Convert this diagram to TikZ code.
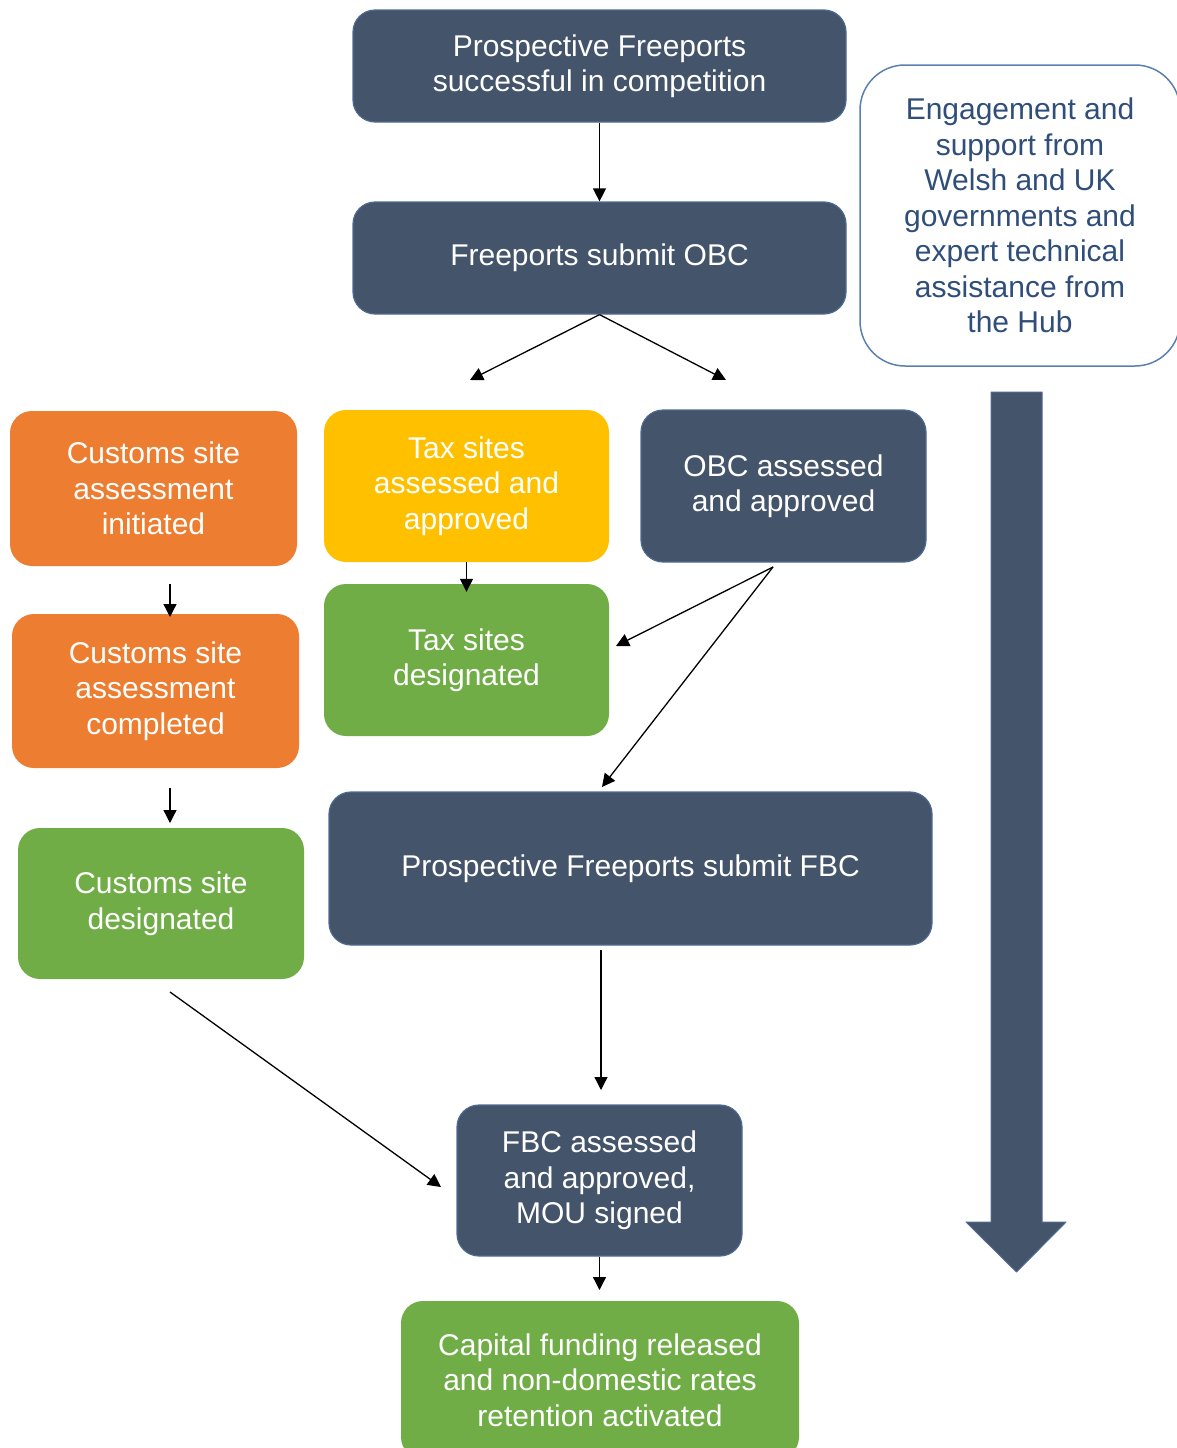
\documentclass[tikz,border=0pt]{standalone}
\usepackage{fontspec}
\setmainfont{Liberation Sans}
\usetikzlibrary{arrows.meta}
\definecolor{slate}{HTML}{44546A}
\definecolor{slateedge}{HTML}{4F6A93}
\definecolor{leaf}{HTML}{70AD47}
\definecolor{amber}{HTML}{FFC000}
\definecolor{tangerine}{HTML}{ED7D31}
\definecolor{hubtext}{HTML}{2F4E7A}
\definecolor{hubedge}{HTML}{5B7FAE}
\tikzset{
	stage/.style={rounded corners=22pt, align=center, text=white, inner sep=0pt, font=\fontsize{30}{35.5}\selectfont},
	slatestage/.style={stage, fill=slate, draw=slateedge, line width=1.2pt},
	leafstage/.style={stage, fill=leaf},
	amberstage/.style={stage, fill=amber},
	tangerinestage/.style={stage, fill=tangerine},
	flow/.style={-{Triangle[length=13pt,width=13pt]}, line width=1.3pt},
}
\begin{document}
\begin{tikzpicture}[x=1pt,y=-1pt,line join=round]
		\useasboundingbox (0,0) rectangle (1176,1448);
		\node[slatestage, minimum width=493pt, minimum height=112pt] (success) at (599.5,66) {Prospective Freeports\\successful in competition};
		\node[slatestage, minimum width=493pt, minimum height=112pt] (obc) at (599.5,258) {Freeports submit OBC};
		\node[stage, fill=white, draw=hubedge, text=hubtext, line width=1.5pt, rounded corners=45pt, minimum width=320pt, minimum height=301pt] (hub) at (1020,215.5) {Engagement and\\support from\\Welsh and UK\\governments and\\expert technical\\assistance from\\the Hub};
		\node[tangerinestage, minimum width=287pt, minimum height=155pt] (cinit) at (153.5,488.5) {Customs site\\assessment\\initiated};
		\node[amberstage, minimum width=285pt, minimum height=152pt] (taxok) at (466.5,486) {Tax sites\\assessed and\\approved};
		\node[slatestage, minimum width=285pt, minimum height=152pt] (obcok) at (783.5,486) {OBC assessed\\and approved};
		\node[tangerinestage, minimum width=287pt, minimum height=154pt] (cdone) at (155.5,691) {Customs site\\assessment\\completed};
		\node[leafstage, minimum width=285pt, minimum height=152pt] (taxdes) at (466.5,660) {Tax sites\\designated};
		\node[leafstage, minimum width=286pt, minimum height=151pt] (cdes) at (161,903.5) {Customs site\\designated};
		\node[slatestage, minimum width=603pt, minimum height=153pt] (fbc) at (630.5,868.5) {Prospective Freeports submit FBC};
		\node[slatestage, minimum width=285pt, minimum height=151pt] (fbcok) at (599.5,1180.5) {FBC assessed\\and approved,\\MOU signed};
		\node[leafstage, minimum width=398pt, minimum height=158pt] (funds) at (600,1380) {Capital funding released\\and non-domestic rates\\retention activated};
		\draw[fill=slate, draw=slateedge, line width=1pt] (991,392) -- (1042,392) -- (1042,1222) -- (1066,1222) -- (1016.5,1272) -- (966,1222) -- (991,1222) -- cycle;
		\coordinate (splitL) at (470,380);
		\coordinate (splitR) at (726,380);
		\coordinate (cinitout) at (170,584);
		\coordinate (cdonein) at (170,617);
		\coordinate (cdoneout) at (170,788);
		\coordinate (cdesin) at (170,823);
		\coordinate (obcfork) at (773,567);
		\coordinate (taxdesin) at (616,646);
		\coordinate (fbcin) at (602,787);
		\coordinate (cdesout) at (170,992);
		\coordinate (fbcokin) at (441,1187);
		\coordinate (fbcout) at (601,950);
		\coordinate (fbcokup) at (601,1090);
		\coordinate (fundsin) at (599.5,1290);
		\draw[flow] (success) -- (obc);
		\draw[flow] (obc.south) -- (splitL);
		\draw[flow] (obc.south) -- (splitR);
		\draw[flow] (cinitout) -- (cdonein);
		\draw[flow] (cdoneout) -- (cdesin);
		\draw[flow] (taxok.south) -- ([yshift=-8pt]taxdes.north);
		\draw[flow] (obcfork) -- (taxdesin);
		\draw[flow] (obcfork) -- (fbcin);
		\draw[flow] (cdesout) -- (fbcokin);
		\draw[flow] (fbcout) -- (fbcokup);
		\draw[flow] (fbcok.south) -- (fundsin);
		\end{tikzpicture}
\end{document}
